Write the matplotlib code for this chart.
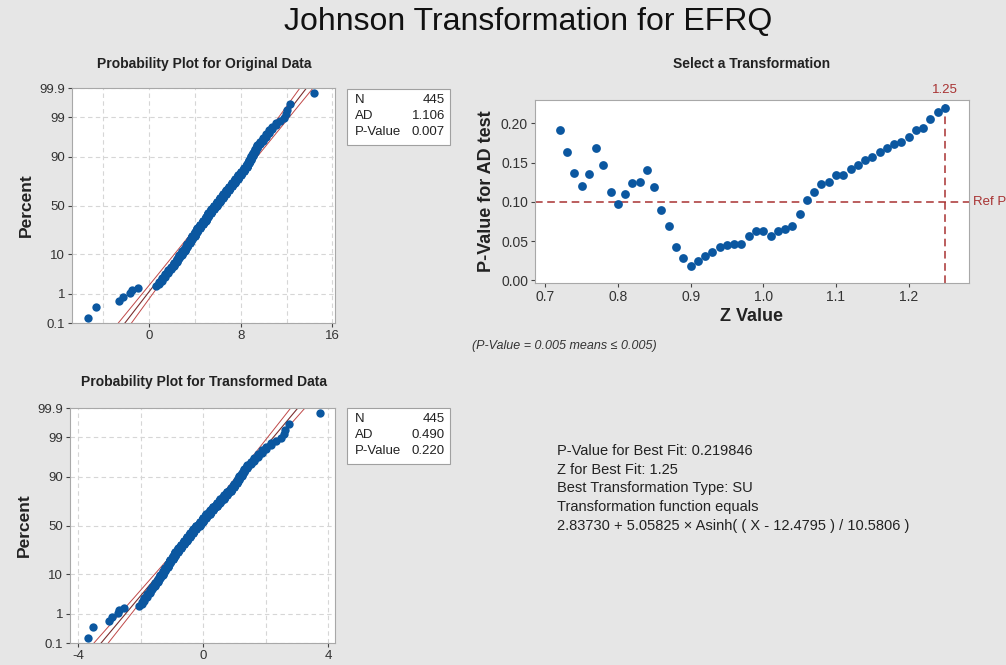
import numpy as np
import matplotlib.pyplot as plt
from matplotlib.patches import Rectangle
from statistics import NormalDist

plt.rcParams['font.family'] = ['Liberation Sans', 'DejaVu Sans']
plt.rcParams['axes.unicode_minus'] = False

# EFRQ data (value, how many times it occurs)
efrq_values = [-5.3, -4.65, -2.6, -2.3, -1.65, -1.5, -1.0, 0.6,
               0.85, 1.13, 1.38, 1.64, 1.89, 2.15, 2.40, 2.65, 2.88, 3.10, 3.32,
               3.54, 3.76, 3.98, 4.21, 4.43, 4.67, 4.93, 5.19, 5.45, 5.71,
               5.97, 6.23, 6.49, 6.75, 7.01, 7.26, 7.52, 7.78, 8.04, 8.30, 8.53,
               8.72, 8.91, 9.09, 9.25, 9.45, 9.70, 9.95, 10.20, 10.45, 10.74,
               11.07, 11.42, 11.78, 11.97, 12.0, 12.3, 14.4]
efrq_counts = [1, 1, 1, 1, 1, 1, 1, 1,
               2, 3, 3, 4, 4, 6, 6, 7, 8, 9, 11,
               11, 12, 14, 14, 15, 16, 17, 17, 18, 17,
               18, 18, 17, 17, 16, 15, 14, 14, 12, 11, 11,
               9, 8, 7, 6, 6, 4, 4, 3, 3, 2,
               2, 1, 1, 1, 1, 1, 1]

# Johnson SU parameters shown on the chart
su_gamma, su_eta, su_eps, su_lam = 2.83730, 5.05825, 12.4795, 10.5806

# Z values tried and the AD p-value of each
z_values = [0.72, 0.73, 0.74, 0.75, 0.76, 0.77, 0.78, 0.79, 0.80, 0.81,
            0.82, 0.83, 0.84, 0.85, 0.86, 0.87, 0.88, 0.89, 0.90, 0.91,
            0.92, 0.93, 0.94, 0.95, 0.96, 0.97, 0.98, 0.99, 1.00, 1.01,
            1.02, 1.03, 1.04, 1.05, 1.06, 1.07, 1.08, 1.09, 1.10, 1.11,
            1.12, 1.13, 1.14, 1.15, 1.16, 1.17, 1.18, 1.19, 1.20, 1.21,
            1.22, 1.23, 1.24, 1.25]
p_values = [0.191, 0.163, 0.137, 0.120, 0.135, 0.168, 0.147, 0.113, 0.097, 0.110,
            0.124, 0.125, 0.141, 0.119, 0.090, 0.069, 0.043, 0.028, 0.018, 0.024,
            0.031, 0.036, 0.042, 0.045, 0.046, 0.046, 0.057, 0.063, 0.063, 0.057,
            0.063, 0.066, 0.069, 0.084, 0.103, 0.113, 0.123, 0.125, 0.134, 0.134,
            0.142, 0.147, 0.153, 0.157, 0.163, 0.169, 0.174, 0.176, 0.183, 0.191,
            0.194, 0.206, 0.214, 0.220]
ref_p = 0.10
best_z = 1.25

pct_ticks = [0.1, 1, 10, 50, 90, 99, 99.9]
pct_labels = ["0.1", "1", "10", "50", "90", "99", "99.9"]

W, H = 1006, 665
BG = '#e6e6e6'
DOT = '#0b57a0'
RED = '#a83232'
nd = NormalDist()


def px(x, y):
    return x / W, 1 - y / H


def box(l, t, r, b):
    return [l / W, 1 - b / H, (r - l) / W, (b - t) / H]


def prob_plot(ax, data, xlim, major, minor):
    x = np.sort(data)
    n = len(x)
    pp = (np.arange(1, n + 1) - 0.3) / (n + 0.4)
    zq = np.array([nd.inv_cdf(p) for p in pp])
    mu, sd = x.mean(), x.std(ddof=1)
    zz = np.linspace(-3.4, 3.4, 200)
    xp = mu + sd * zz
    se = sd * np.sqrt(1 / n + zz ** 2 / (2 * (n - 1)))
    ax.plot(xp, zz, color='#7a2e2e', lw=0.8, zorder=2)
    ax.plot(xp - 1.96 * se, zz, color='#c04848', lw=0.7, zorder=2)
    ax.plot(xp + 1.96 * se, zz, color='#c04848', lw=0.7, zorder=2)
    ax.scatter(x, zq, s=36, color=DOT, zorder=3, linewidths=0)
    ax.set_xlim(*xlim)
    ax.set_ylim(nd.inv_cdf(0.001), nd.inv_cdf(0.999))
    ax.set_xticks(major)
    ax.set_xticks(minor, minor=True)
    ax.set_yticks([nd.inv_cdf(p / 100) for p in pct_ticks])
    ax.set_yticklabels(pct_labels)
    ax.grid(True, which='both', color='#d6d6d6', ls=(0, (4, 3)), lw=0.8)
    ax.set_axisbelow(True)
    ax.tick_params(which='minor', length=0)
    ax.tick_params(which='major', length=3, labelsize=9.5, colors='#444444',
                   labelcolor='#333333', pad=2)
    for s in ax.spines.values():
        s.set_color('#a8a8a8')
    ax.set_ylabel("Percent", fontsize=12.5, fontweight='bold', color='#222222', labelpad=4)


def stats_box(fig, top, ad, pval):
    l, r = 347, 450
    fig.patches.append(Rectangle(px(l, top + 56), (r - l) / W, 56 / H,
                                 transform=fig.transFigure, fc='white',
                                 ec='#a0a0a0', lw=0.8))
    rows = [("N", "445"), ("AD", ad), ("P-Value", pval)]
    for k, (a, b) in enumerate(rows):
        y = top + 11 + k * 16
        fig.text(*px(355, y), a, fontsize=9.5, va='center', ha='left', color='#222222')
        fig.text(*px(445, y), b, fontsize=9.5, va='center', ha='right', color='#222222')


efrq = np.repeat(efrq_values, efrq_counts)
transformed = su_gamma + su_eta * np.arcsinh((efrq - su_eps) / su_lam)

fig = plt.figure(figsize=(W / 100, H / 100), dpi=100, facecolor=BG)

fig.text(*px(528, 22), "Johnson Transformation for EFRQ", fontsize=23,
         ha='center', va='center', color='#111111')

# original data
ax1 = fig.add_axes(box(72, 88, 335, 323))
prob_plot(ax1, efrq, (-6.72, 16.23), [0, 8, 16], [-4, 4, 12])
fig.text(*px(204, 64), "Probability Plot for Original Data", fontsize=10,
         fontweight='bold', ha='center', va='center', color='#222222')
stats_box(fig, 89, "1.106", "0.007")

# transformed data
ax2 = fig.add_axes(box(70, 408, 335, 643))
prob_plot(ax2, transformed, (-4.256, 4.224), [-4, 0, 4], [-2, 2])
fig.text(*px(204, 382), "Probability Plot for Transformed Data", fontsize=10,
         fontweight='bold', ha='center', va='center', color='#222222')
stats_box(fig, 408, "0.490", "0.220")

# select a transformation
ax3 = fig.add_axes(box(535, 100, 969, 283))
ax3.scatter(z_values, p_values, s=40, color=DOT, linewidths=0, zorder=3)
ax3.axhline(ref_p, color=RED, ls=(0, (5, 3)), lw=1.1, zorder=2)
ax3.axvline(best_z, color=RED, ls=(0, (5, 3)), lw=1.1, zorder=2)
ax3.set_xlim(0.686, 1.283)
ax3.set_ylim(-0.0034, 0.2298)
ax3.set_xticks([0.7, 0.8, 0.9, 1.0, 1.1, 1.2])
ax3.set_yticks([0.0, 0.05, 0.10, 0.15, 0.20])
ax3.set_yticklabels(["0.00", "0.05", "0.10", "0.15", "0.20"])
ax3.tick_params(length=3, labelsize=10, colors='#444444', labelcolor='#333333', pad=2)
for s in ax3.spines.values():
    s.set_color('#a8a8a8')
ax3.set_xlabel("Z Value", fontsize=13, fontweight='bold', color='#222222', labelpad=3)
ax3.set_ylabel("P-Value for AD test", fontsize=13, fontweight='bold', color='#222222', labelpad=4)
ax3.text(best_z, 1.02, f"{best_z:.2f}", transform=ax3.get_xaxis_transform(),
         ha='center', va='bottom', fontsize=9.5, color=RED)
ax3.text(1.01, ref_p, "Ref P", transform=ax3.get_yaxis_transform(),
         ha='left', va='center', fontsize=9.5, color=RED)
fig.text(*px(752, 64), "Select a Transformation", fontsize=10,
         fontweight='bold', ha='center', va='center', color='#222222')
fig.text(*px(472, 346), "(P-Value = 0.005 means \u2264 0.005)", fontsize=9,
         style='italic', ha='left', va='center', color='#333333')

info = ["P-Value for Best Fit: 0.219846",
        "Z for Best Fit: 1.25",
        "Best Transformation Type: SU",
        "Transformation function equals",
        "2.83730 + 5.05825 \u00d7 Asinh( ( X - 12.4795 ) / 10.5806 )"]
for k, line in enumerate(info):
    fig.text(*px(557, 451 + k * 18.7), line, fontsize=10.5, ha='left',
             va='center', color='#222222')

fig.savefig("out.png", dpi=100, facecolor=BG)
